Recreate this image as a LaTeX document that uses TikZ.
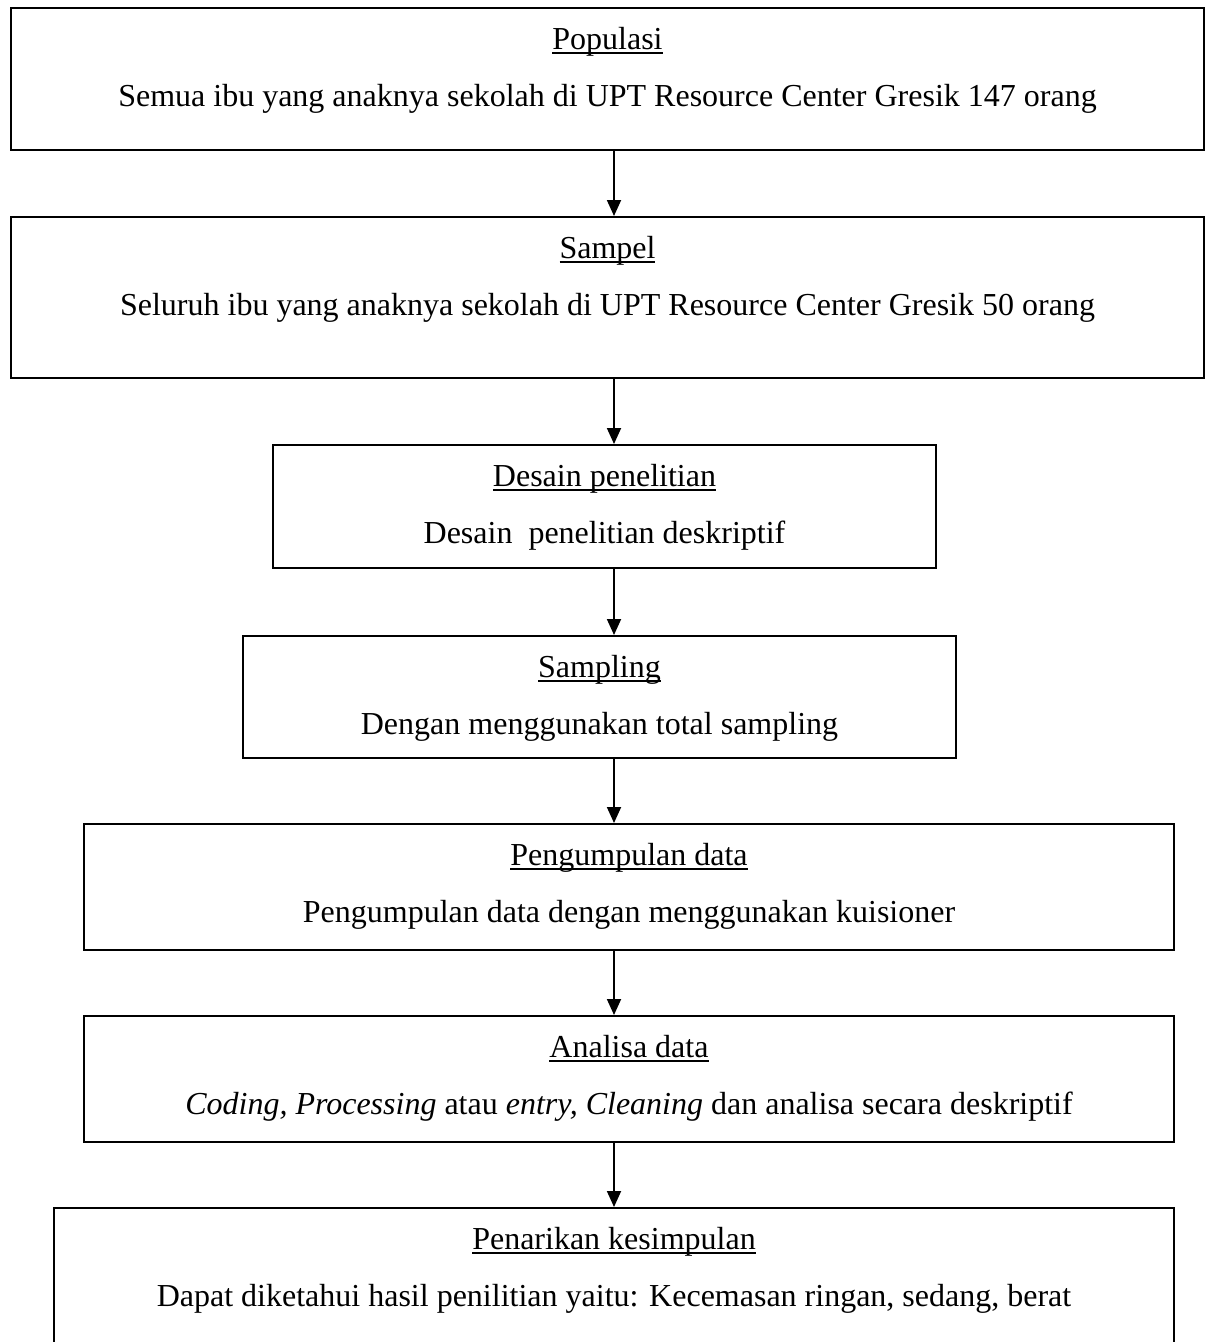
\documentclass[tikz,border=0pt]{standalone}
\usepackage{fontspec}
\setmainfont{Liberation Serif}
\usetikzlibrary{arrows.meta}
\newlength\myulw
\newcommand{\myul}[1]{\settowidth{\myulw}{#1}\rlap{\rule[-0.16em]{\myulw}{0.06em}}#1}
\begin{document}
\begin{tikzpicture}[x=1pt,y=-1pt,
  box/.style={draw=black, line width=2pt, rectangle, inner sep=0pt},
  txt/.style={anchor=base, inner sep=0pt, font=\fontsize{32}{38}\selectfont},
  arr/.style={line width=1.8pt, -{Triangle[length=16pt,width=14pt]}}]
\useasboundingbox (0,0) rectangle (1211,1342);
\fill[white] (0,0) rectangle (1211,1342);
\clip (0,0) rectangle (1211,1342);

% boxes
\node[box, minimum width=1193pt, minimum height=142pt] (b1) at (607.5,79) {};
\node[box, minimum width=1193pt, minimum height=161pt] (b2) at (607.5,297.5) {};
\node[box, minimum width=663pt, minimum height=123pt] (b3) at (604.5,506.5) {};
\node[box, minimum width=713pt, minimum height=122pt] (b4) at (599.5,697) {};
\node[box, minimum width=1090pt, minimum height=126pt] (b5) at (629,887) {};
\node[box, minimum width=1090pt, minimum height=126pt] (b6) at (629,1079) {};
\node[box, minimum width=1120pt, minimum height=192pt] (b7) at (614,1304) {};

% texts
\node[txt] (t1a) at (607.5,49) {\myul{Populasi}};
\node[txt] (t1b) at (607.5,106) {Semua ibu yang anaknya sekolah di UPT Resource Center Gresik 147 orang};
\node[txt] (t2a) at (607.5,258) {\myul{Sampel}};
\node[txt] (t2b) at (607.5,315) {Seluruh ibu yang anaknya sekolah di UPT Resource Center Gresik 50 orang};
\node[txt] (t3a) at (604.5,486) {\myul{Desain penelitian}};
\node[txt] (t3b) at (604.5,543) {Desain~ penelitian deskriptif};
\node[txt] (t4a) at (599.5,677) {\myul{Sampling}};
\node[txt] (t4b) at (599.5,734) {Dengan menggunakan total sampling};
\node[txt] (t5a) at (629,865) {\myul{Pengumpulan data}};
\node[txt] (t5b) at (629,922) {Pengumpulan data dengan menggunakan kuisioner};
\node[txt] (t6a) at (629,1057) {\myul{Analisa data}};
\node[txt] (t6b) at (629,1114) {\textit{Coding, Processing} atau \textit{entry, Cleaning} dan analisa secara deskriptif};
\node[txt] (t7a) at (614,1249) {\myul{Penarikan kesimpulan}};
\node[txt] (t7b) at (614,1306) {Dapat diketahui hasil penilitian yaitu: Kecemasan ringan, sedang, berat};

% connectors
\coordinate (ax) at (614,0);
\draw[arr] (b1.south -| ax) -- (b2.north -| ax);
\draw[arr] (b2.south -| ax) -- (b3.north -| ax);
\draw[arr] (b3.south -| ax) -- (b4.north -| ax);
\draw[arr] (b4.south -| ax) -- (b5.north -| ax);
\draw[arr] (b5.south -| ax) -- (b6.north -| ax);
\draw[arr] (b6.south -| ax) -- (b7.north -| ax);
\end{tikzpicture}
\end{document}
